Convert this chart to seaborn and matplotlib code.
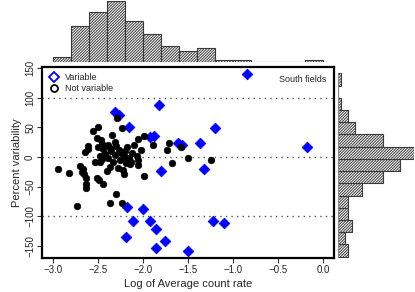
import matplotlib
matplotlib.use("Agg")
import numpy as np
import pandas as pd
import matplotlib.pyplot as plt
from matplotlib.lines import Line2D
import seaborn as sns

# --- Data ---
# Variable sources (blue diamonds): log average count rate, percent variability
var_x = [-0.84, -1.82, -2.31, -2.27, -2.16, -1.20, -1.92, -1.88, -1.61, -1.57,
         -1.37, -0.18, -1.80, -1.32, -2.18, -2.00, -2.11, -1.92, -1.22, -1.10,
         -1.85, -2.19, -1.76, -1.86, -1.50]
var_y = [140, 88, 75, 71, 51, 49, 33, 35, 24, 20,
         23, 17, -24, -21, -84, -87, -107, -107, -108, -111,
         -122, -135, -141, -154, -159]

# Non-variable sources (black circles)
nonvar_x = [-2.29, -2.23, -2.55, -2.50, -2.34, -2.51, -2.46, -2.31, -2.05, -1.99,
            -1.89, -1.71, -1.73, -1.58, -1.50, -1.68, -1.99, -2.30, -2.61, -2.61,
            -2.64, -2.50, -2.44, -2.39, -2.37, -2.27, -2.18, -2.24, -2.48, -2.39,
            -2.31, -2.20, -2.16, -2.13, -2.07, -2.02, -2.14, -2.06, -2.53, -2.48,
            -2.36, -2.28, -2.22, -2.21, -2.40, -2.70, -2.68, -2.65, -2.63, -2.63,
            -2.63, -2.51, -2.49, -2.44, -2.94, -2.82, -2.73, -2.36, -2.23, -1.25,
            -2.42, -2.33, -2.10, -2.19, -2.26, -2.45, -2.35, -2.12, -2.66, -2.45,
            -2.30, -2.20, -2.05]
nonvar_y = [65, 48, 44, 51, 37, 32, 28, 26, 30, 36,
            21, 24, 11, 17, -1, -10, -32, -63, 19, 13,
            8, 16, 13, 20, 15, 12, 16, 6, 2, -2,
            3, 0, -2, -8, 2, 12, -12, -14, -8, -9,
            -16, -18, -22, -29, -24, -15, -25, -29, -36, -45,
            -53, -36, -39, -45, -20, -27, -83, -77, -77, -5,
            5, -8, 20, -10, -5, -3, 10, 6, -20, 22,
            18, 10, -5]

# Marginal histogram counts
xhist_edges = [-3.0, -2.8, -2.6, -2.4, -2.2, -2.0, -1.8, -1.6, -1.4, -1.2,
               -1.0, -0.8, -0.6, -0.4, -0.2, 0.0]
xhist_counts = [2, 13, 18, 22, 15, 10, 6, 4, 5, 1, 1, 0, 0, 0, 1]

yhist_edges = [-160, -140, -120, -100, -80, -60, -40, -20, 0, 20,
               40, 60, 80, 100, 120, 140]
yhist_counts = [3, 2, 4, 3, 3, 7, 13, 18, 22, 13, 5, 3, 1, 0, 1]

sns.set_style("ticks")
plt.rcParams['font.family'] = ['Liberation Sans', 'DejaVu Sans']
plt.rcParams['hatch.linewidth'] = 0.7

W, H = 415, 292
fig = plt.figure(figsize=(W / 100, H / 100), dpi=100)

# axes placed in pixel coordinates to follow the reference layout
def px_axes(x0, y0, x1, y1):
    return fig.add_axes([x0 / W, 1 - y1 / H, (x1 - x0) / W, (y1 - y0) / H])

ax = px_axes(42, 66.7, 334, 258)
ax_top = px_axes(42, 1.0, 334, 62.3)
ax_right = px_axes(337.7, 66.7, 414.3, 258)

# --- Main scatter ---
for yline in [100, 0, -100]:
    ax.axhline(yline, color='#555555', lw=1.0, ls=(0, (1, 3)), zorder=1)

sns.scatterplot(x=var_x, y=var_y, ax=ax, marker='D', s=30, color='#0000FF',
                edgecolor='#0000FF', linewidth=0.5, zorder=3)
sns.scatterplot(x=nonvar_x, y=nonvar_y, ax=ax, marker='o', s=22, color='black',
                edgecolor='black', linewidth=0.5, zorder=4)

ax.set_xlim(-3.12, 0.12)
ax.set_ylim(-170, 152)
ax.set_xticks([-3.0, -2.5, -2.0, -1.5, -1.0, -0.5, 0.0])
ax.set_yticks([-150, -100, -50, 0, 50, 100, 150])
ax.tick_params(axis='both', direction='out', length=3.5, width=0.8,
               labelsize=7, color='#333333', pad=1.5)
ax.tick_params(axis='y', labelrotation=90)
plt.setp(ax.get_yticklabels(), va='center')
for sp in ax.spines.values():
    sp.set_linewidth(1.6)
    sp.set_color('black')
ax.set_xlabel('Log of Average count rate', fontsize=8, labelpad=3)
ax.set_ylabel('Percent variability', fontsize=8, labelpad=2)

handles = [
    Line2D([], [], ls='none', marker='D', markersize=5, markerfacecolor='none',
           markeredgecolor='#0000FF', markeredgewidth=1.3, label='Variable'),
    Line2D([], [], ls='none', marker='o', markersize=5, markerfacecolor='none',
           markeredgecolor='black', markeredgewidth=1.3, label='Not variable'),
]
ax.legend(handles=handles, loc='upper left', frameon=False, fontsize=6.5,
          handletextpad=0.6, labelspacing=0.25, borderaxespad=0.3,
          handlelength=1.2, bbox_to_anchor=(0.0, 1.0))
ax.text(0.975, 0.935, 'South fields', transform=ax.transAxes, ha='right',
        va='center', fontsize=6.5)

# --- Top histogram ---
hatch = '/' * 12
xcent = [(a + b) / 2 for a, b in zip(xhist_edges[:-1], xhist_edges[1:])]
sns.histplot(x=xcent, weights=xhist_counts, bins=xhist_edges, ax=ax_top,
             color='white', edgecolor='#3a3a3a', linewidth=0.8, alpha=1,
             hatch=hatch)
ax_top.axhline(0, xmin=(xhist_edges[0] + 3.12) / 3.24,
               xmax=(xhist_edges[-1] + 3.12) / 3.24, color='#888888', lw=0.8)
ax_top.set_xlim(-3.12, 0.12)
ax_top.set_ylim(0, 22)
ax_top.axis('off')

# --- Right histogram ---
ycent = [(a + b) / 2 for a, b in zip(yhist_edges[:-1], yhist_edges[1:])]
sns.histplot(y=ycent, weights=yhist_counts, bins=yhist_edges, ax=ax_right,
             color='white', edgecolor='#3a3a3a', linewidth=0.8, alpha=1,
             hatch=hatch)
ax_right.set_ylim(-162.1, 150.8)
ax_right.set_xlim(0, 22)
ax_right.axvline(0, ymin=(yhist_edges[0] + 162.1) / 312.9,
                 ymax=(yhist_edges[-1] + 162.1) / 312.9, color='#888888', lw=0.8)
ax_right.axis('off')

fig.savefig('out.png', dpi=100)
